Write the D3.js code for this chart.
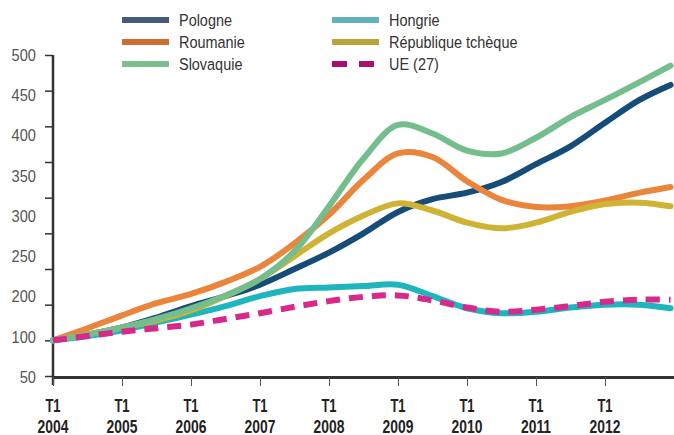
<!DOCTYPE html>
<html>
<head>
<meta charset="utf-8">
<script src="https://cdn.jsdelivr.net/npm/d3@7"></script>
<style>
  body { margin: 0; background: #fff; }
  svg { display: block; font-family: "Liberation Sans", Arial, sans-serif; }
</style>
</head>
<body>
<div id="chart"></div>
<script>
// dates (years), one point per half year
const dates = [2004, 2004.5, 2005, 2005.5, 2006, 2006.5, 2007, 2007.5, 2008, 2008.5,
               2009, 2009.5, 2010, 2010.5, 2011, 2011.5, 2012, 2012.5, 2012.95];

const pologne   = [100, 108, 118, 132, 148, 162, 178, 200, 223, 250, 280, 298, 307, 322, 347, 372, 405, 437, 458];
const roumanie  = [100, 117, 135, 152, 165, 182, 203, 236, 276, 325, 362, 357, 323, 297, 287, 288, 296, 307, 315];
const slovaquie = [100, 108, 118, 130, 145, 163, 186, 225, 288, 355, 402, 390, 366, 362, 384, 413, 437, 462, 485];
const hongrie   = [100, 106, 114, 125, 136, 148, 162, 172, 174, 176, 178, 162, 145, 138, 140, 146, 150, 150, 145];
const tcheque   = [100, 108, 118, 128, 142, 162, 186, 218, 250, 275, 292, 282, 265, 257, 265, 280, 291, 293, 288];
const ue        = [100, 106, 112, 117, 122, 130, 138, 147, 155, 161, 163, 156, 146, 140, 143, 148, 154, 157, 157];

const seriesNames  = ["Pologne", "Roumanie", "Slovaquie", "Hongrie", "République tchèque", "UE (27)"];
const seriesValues = [pologne, roumanie, slovaquie, hongrie, tcheque, ue];
const lineColors   = ["#164c78", "#ea853b", "#74bd8d", "#1eb5bf", "#cfb334", "#d8288a"];
const legendColors = ["#465c7e", "#cd6e31", "#7cc090", "#62b3b9", "#bca339", "#aa0f6f"];

const xTickYears = [2004, 2005, 2006, 2007, 2008, 2009, 2010, 2011, 2012];
const yTicks = [50, 100, 150, 200, 250, 300, 350, 400, 450, 500];
const yLabels = ["500", "450", "400", "350", "300", "250", "200", "100", "50"];

const width = 674, height = 435;
const svg = d3.select("#chart").append("svg")
    .attr("width", width)
    .attr("height", height);

const x = d3.scaleLinear().domain([2004, 2013]).range([53, 674]);
const y = d3.scaleLinear().domain([50, 500]).range([376, 55]);
// the printed labels are spread evenly along the axis
const yLab = d3.scalePoint().domain(yLabels).range([55, 377]);

// condensed look: squeeze text horizontally
function squeeze(sel, tx, ty, k) {
    sel.attr("transform", (d, i) => `translate(${tx(d, i)},${ty(d, i)}) scale(${k},1)`);
}

// y axis
const yAxis = svg.append("g")
    .attr("transform", "translate(53,0)")
    .call(d3.axisLeft(y).tickValues(yTicks).tickSize(8).tickFormat("").tickSizeOuter(0));
yAxis.select(".domain").attr("stroke", "#333").attr("stroke-width", 2.5)
    .attr("d", "M0,55V385");
yAxis.selectAll(".tick line").attr("stroke", "#333").attr("stroke-width", 1.5);

svg.append("g").selectAll("text")
    .data(yLabels)
    .join("text")
    .attr("dy", "0.35em")
    .attr("text-anchor", "end")
    .attr("fill", "#555")
    .style("font-size", "17px")
    .text(d => d)
    .call(squeeze, () => 36, d => yLab(d), 0.86);

// x axis
const xAxis = svg.append("g")
    .attr("transform", "translate(0,377)")
    .call(d3.axisBottom(x).tickValues(xTickYears).tickSize(9).tickFormat("").tickSizeOuter(0));
xAxis.select(".domain").attr("stroke", "#333").attr("stroke-width", 3);
xAxis.selectAll(".tick line").attr("stroke", "#555").attr("stroke-width", 1);

const xLab = svg.append("g").selectAll("g")
    .data(xTickYears)
    .join("g")
    .attr("transform", d => `translate(${x(d)},0)`);
xLab.append("text")
    .attr("text-anchor", "middle")
    .attr("fill", "#222")
    .style("font-size", "18px")
    .style("font-weight", "bold")
    .text("T1")
    .call(squeeze, () => 0, () => 412, 0.72);
xLab.append("text")
    .attr("text-anchor", "middle")
    .attr("fill", "#222")
    .style("font-size", "18px")
    .style("font-weight", "bold")
    .text(d => d)
    .call(squeeze, () => 0, () => 433, 0.77);

// lines
const line = d3.line()
    .x((d, i) => x(dates[i]))
    .y(d => y(d))
    .curve(d3.curveCatmullRom.alpha(0.5));

const drawOrder = [0, 1, 3, 4, 2, 5];
svg.append("g").selectAll("path")
    .data(drawOrder)
    .join("path")
    .attr("d", i => line(seriesValues[i]))
    .attr("fill", "none")
    .attr("stroke", i => lineColors[i])
    .attr("stroke-width", 6)
    .attr("stroke-linecap", i => i === 5 ? "butt" : "round")
    .attr("stroke-dasharray", i => i === 5 ? "14,9" : null);

// legend
const legend = svg.append("g").selectAll("g")
    .data(seriesNames)
    .join("g")
    .attr("transform", (d, i) => `translate(${i < 3 ? 122 : 332},${20 + (i % 3) * 22})`);
legend.append("line")
    .attr("x1", 0).attr("x2", 47)
    .attr("stroke", (d, i) => legendColors[i])
    .attr("stroke-width", 6)
    .attr("stroke-dasharray", (d, i) => i === 5 ? "15,12" : null);
legend.append("text")
    .attr("dy", "0.35em")
    .attr("fill", "#333")
    .style("font-size", "17px")
    .text(d => d)
    .call(squeeze, () => 57, () => 0, 0.85);
</script>
</body>
</html>
